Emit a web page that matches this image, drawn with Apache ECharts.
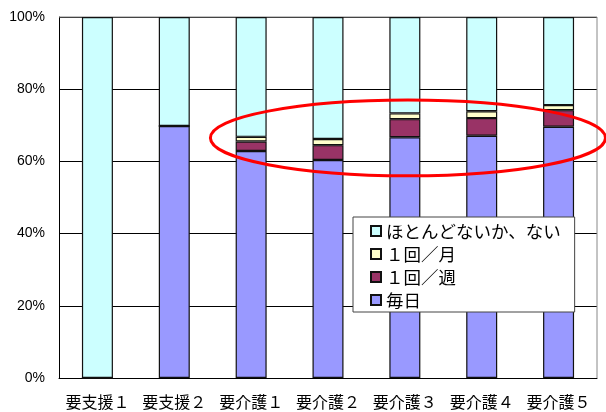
<!DOCTYPE html>
<html><head><meta charset="utf-8">
<script src="https://cdn.jsdelivr.net/npm/echarts@6/dist/echarts.min.js"></script>
<style>html,body{margin:0;padding:0;background:#fff}#c{width:606px;height:412px}</style>
</head><body><div id="c"></div>
<script>
const categories = ['要支援１','要支援２','要介護１','要介護２','要介護３','要介護４','要介護５'];
const daily   = [0, 69.8, 62.9, 60.4, 66.7, 67.1, 69.6];
const weekly  = [0, 0, 2.6, 4.1, 5.0, 4.9, 4.6];
const monthly = [0, 0, 1.3, 1.7, 1.6, 1.9, 1.4];
const rarely  = [100, 30.2, 33.2, 33.8, 26.7, 26.1, 24.4];
const yTicks = [0, 20, 40, 60, 80, 100];
const names = ['毎日','１回／週','１回／月','ほとんどないか、ない'];
const colors = ['#9999FF','#993366','#FFFFCC','#CCFFFF'];

const chart = echarts.init(document.getElementById('c'));
const mk = (name, data, color) => ({
  name, type:'bar', stack:'s', data, barWidth:31,
  itemStyle:{color, borderColor:'#111', borderWidth:1.2}
});
chart.setOption({
  animation:false,
  grid:{left:59, right:9, top:17, bottom:34},
  legend:{
    orient:'vertical', left:353, top:217,
    data:[names[3], names[2], names[1], names[0]],
    backgroundColor:'#fff', borderColor:'#444', borderWidth:1,
    padding:[4, 14, 2, 17], itemWidth:10, itemHeight:10, itemGap:3,
    icon:'rect',
    textStyle:{fontFamily:'Noto Sans CJK JP', fontSize:17.5, lineHeight:20, color:'#000'}
  },
  xAxis:{
    type:'category', data:categories,
    axisLine:{lineStyle:{color:'#000'}},
    axisTick:{inside:true, length:5, lineStyle:{color:'#000'}},
    axisLabel:{fontFamily:'Noto Sans CJK JP', fontSize:16, color:'#000', margin:16, interval:0}
  },
  yAxis:{
    type:'value', min:0, max:100, interval:20,
    axisLine:{show:true, lineStyle:{color:'#000'}},
    axisTick:{show:true, inside:true, length:6, lineStyle:{color:'#000'}},
    splitLine:{lineStyle:{color:'#000', width:1}},
    axisLabel:{formatter: v => yTicks.includes(v) ? v + '%' : '', fontFamily:'Liberation Sans', fontSize:14, color:'#000', margin:14}
  },
  series:[mk(names[0], daily, colors[0]), mk(names[1], weekly, colors[1]), mk(names[2], monthly, colors[2]), mk(names[3], rarely, colors[3])]
});
const p4 = chart.convertToPixel({gridIndex:0}, [4, 66.5]);
const p5 = chart.convertToPixel({gridIndex:0}, [5, 77]);
const band = p5[0] - p4[0];
const topY = chart.convertToPixel({gridIndex:0}, [0, 100])[1];
const botY = chart.convertToPixel({gridIndex:0}, [0, 0])[1];
chart.setOption({
  graphic:[
    {type:'line', shape:{x1:59, y1:topY, x2:597, y2:topY}, style:{stroke:'#888', lineWidth:1}, z:1},
    {type:'line', shape:{x1:597, y1:topY, x2:597, y2:botY}, style:{stroke:'#888', lineWidth:1}, z:1},
    {type:'ellipse', shape:{cx:p4[0] + 0.04 * band, cy:p4[1], rx:2.57 * band, ry:p4[1] - p5[1]}, style:{fill:'none', stroke:'#FF0000', lineWidth:3}, z:100}
  ]
});
</script></body></html>
